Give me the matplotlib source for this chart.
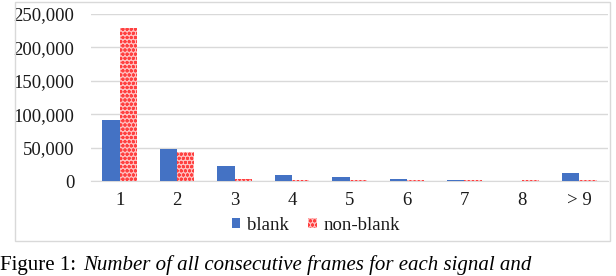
import matplotlib.pyplot as plt
from matplotlib.patches import Rectangle
from matplotlib.ticker import FuncFormatter

categories = ['1', '2', '3', '4', '5', '6', '7', '8', '> 9']
blank = [91000, 48000, 22000, 9000, 6000, 3000, 1500, 700, 12000]
non_blank = [229000, 43000, 3000, 1500, 1200, 1000, 1000, 1000, 1500]

plt.rcParams['font.family'] = ['Liberation Serif', 'DejaVu Serif']
plt.rcParams['hatch.linewidth'] = 1.0

fig = plt.figure(figsize=(6.16, 2.76), dpi=100)
# outer chart frame
fig.patches.append(Rectangle((15 / 616, 1 - 241 / 276), 595 / 616, 239 / 276,
                             transform=fig.transFigure, fill=False,
                             edgecolor='#d9d9d9', lw=1))

ax = fig.add_axes([91 / 616, 1 - 181 / 276, 517 / 616, 167 / 276])
x = list(range(len(categories)))
w = 0.3
ax.bar([i - w / 2 for i in x], blank, w, color='#4472c4', label='blank', zorder=3)
ax.bar([i + w / 2 for i in x], non_blank, w, facecolor='#ffc0c0', edgecolor='#ff4040',
       hatch='oooo', lw=0, label='non-blank', zorder=3)

ax.set_xlim(-0.5, len(categories) - 0.5)
ax.set_ylim(0, 250000)
ax.set_yticks(range(0, 250001, 50000))
ax.yaxis.set_major_formatter(FuncFormatter(lambda v, p: f'{int(v):,}'))
ax.set_xticks(x, categories)
ax.grid(axis='y', color='#d9d9d9', lw=1, zorder=0)
for s in ['top', 'left', 'right']:
    ax.spines[s].set_visible(False)
ax.spines['bottom'].set_color('#d9d9d9')
ax.tick_params(length=0, labelsize=13.5, colors='#1a1a1a')
ax.tick_params(axis='y', pad=12)
ax.tick_params(axis='x', pad=8)

leg = ax.legend(loc='center', bbox_to_anchor=(316 / 616, 1 - 225 / 276),
                bbox_transform=fig.transFigure, ncol=2, frameon=False,
                fontsize=13.5, handlelength=0.45, handleheight=0.45,
                handletextpad=0.4, columnspacing=1.0)
for t in leg.get_texts():
    t.set_color('#1a1a1a')

fig.text(0.0, 1 / 276, 'Figure 1: ', fontsize=15, va='bottom', ha='left')
fig.text(0.135, 1 / 276, 'Number of all consecutive frames for each signal and',
         fontsize=15, va='bottom', ha='left', style='italic')

fig.savefig('out.png', dpi=100)
